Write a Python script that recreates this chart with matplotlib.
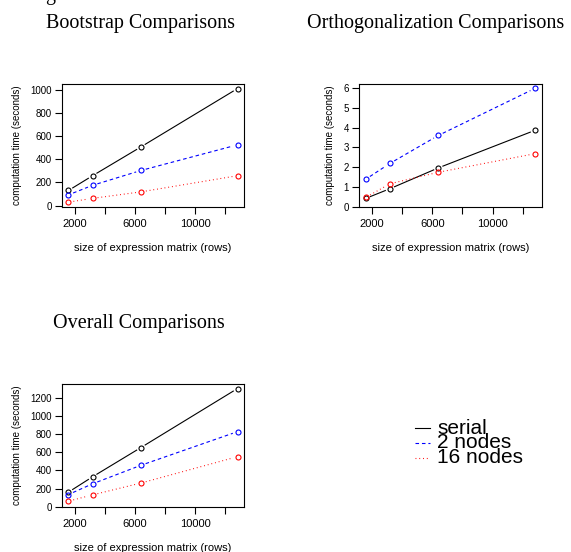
import numpy as np
import matplotlib
matplotlib.use('Agg')
import matplotlib.pyplot as plt
from matplotlib.lines import Line2D

# matrix sizes (rows) used in each run
rows = [1600, 3200, 6400, 12800]

# Bootstrap timings (seconds)
boot_serial = [130, 258, 507, 1012]
boot_2nodes = [92, 175, 303, 525]
boot_16nodes = [29, 62, 118, 258]

# Orthogonalization timings (seconds)
orth_serial = [0.42, 0.91, 1.96, 3.86]
orth_2nodes = [1.39, 2.19, 3.60, 5.98]
orth_16nodes = [0.47, 1.16, 1.74, 2.68]

# Overall timings (seconds)
all_serial = [160, 329, 650, 1299]
all_2nodes = [134, 252, 455, 825]
all_16nodes = [61, 130, 260, 550]

series_labels = ['serial', '2 nodes', '16 nodes']
series_colors = ['black', 'blue', 'red']
series_dashes = [None, (3.2, 2.6), (0.8, 2.6)]

xticks = [2000, 4000, 6000, 8000, 10000, 12000]
xtick_labels = ['2000', '', '6000', '', '10000', '']

W, H = 571, 552
fig = plt.figure(figsize=(W / 100, H / 100), dpi=100)
plt.rcParams['font.family'] = ['Liberation Sans', 'DejaVu Sans']


def px_axes(left, top, right, bottom):
    return fig.add_axes([left / W, 1 - bottom / H, (right - left) / W, (bottom - top) / H])


def r_limits(vals):
    lo, hi = min(vals), max(vals)
    pad = (hi - lo) * 0.04
    return lo - pad, hi + pad


def type_b(ax, x, y, color, dashes, gap=5.0):
    # R's type="b": open circles, line segments stopping short of the points
    pts = ax.transData.transform(np.column_stack([x, y]))
    inv = ax.transData.inverted()
    for i in range(len(pts) - 1):
        p0, p1 = pts[i], pts[i + 1]
        d = p1 - p0
        L = np.hypot(*d)
        if L <= 2 * gap:
            continue
        u = d / L
        seg = inv.transform(np.array([p0 + u * gap, p1 - u * gap]))
        ln, = ax.plot(seg[:, 0], seg[:, 1], color=color, lw=0.8)
        if dashes is not None:
            ln.set_dashes(dashes)
    ax.plot(x, y, 'o', ms=3.6, mfc='none', mec=color, mew=0.8, ls='none')


def panel(ax, title, data, yticks, title_x):
    allv = [v for s in data for v in s]
    ax.set_xlim(*r_limits(rows))
    ax.set_ylim(*r_limits(allv))
    for s, c, d in zip(data, series_colors, series_dashes):
        type_b(ax, rows, s, c, d)
    ax.set_xticks(xticks)
    ax.set_xticklabels(xtick_labels)
    ax.set_yticks(yticks)
    ax.tick_params(direction='out', length=5, width=0.8)
    ax.tick_params(axis='x', labelsize=8, pad=3.5)
    ax.tick_params(axis='y', labelsize=7, pad=2.2)
    for sp in ax.spines.values():
        sp.set_linewidth(0.8)
    ax.set_xlabel('size of expression matrix (rows)', fontsize=8, labelpad=10.5)
    ax.set_ylabel('computation time (seconds)', fontsize=7, labelpad=6)
    pos = ax.get_position()
    fig.text(title_x / W, pos.y1 + 56 / H, title, fontsize=14.5,
             family='Liberation Serif', ha='center', va='baseline')


ax1 = px_axes(61.7, 84, 244.3, 206.7)
panel(ax1, 'Bootstrap Comparisons', [boot_serial, boot_2nodes, boot_16nodes],
      [0, 200, 400, 600, 800, 1000], 140)

ax2 = px_axes(359, 84, 541.7, 206.7)
panel(ax2, 'Orthogonalization Comparisons', [orth_serial, orth_2nodes, orth_16nodes],
      [0, 1, 2, 3, 4, 5, 6], 436)

ax3 = px_axes(61.7, 384, 244.3, 506.7)
panel(ax3, 'Overall Comparisons', [all_serial, all_2nodes, all_16nodes],
      [0, 200, 400, 600, 800, 1000, 1200], 139)

# cut-off caption fragment at the very top
fig.text(50 / W, 1.0, 'g', fontsize=14.5, family='Liberation Serif', ha='center', va='baseline')

# legend (R style, no box)
leg_y = [428, 443, 457.5]
for lab, c, d, yy in zip(series_labels, series_colors, series_dashes, leg_y):
    ln = Line2D([415 / W, 430 / W], [1 - yy / H, 1 - yy / H], color=c, lw=0.8,
                transform=fig.transFigure)
    if d is not None:
        ln.set_dashes(d)
    fig.add_artist(ln)
    fig.text(437 / W, 1 - yy / H, lab, fontsize=15, va='center', ha='left')

fig.savefig('out.png', dpi=100)
